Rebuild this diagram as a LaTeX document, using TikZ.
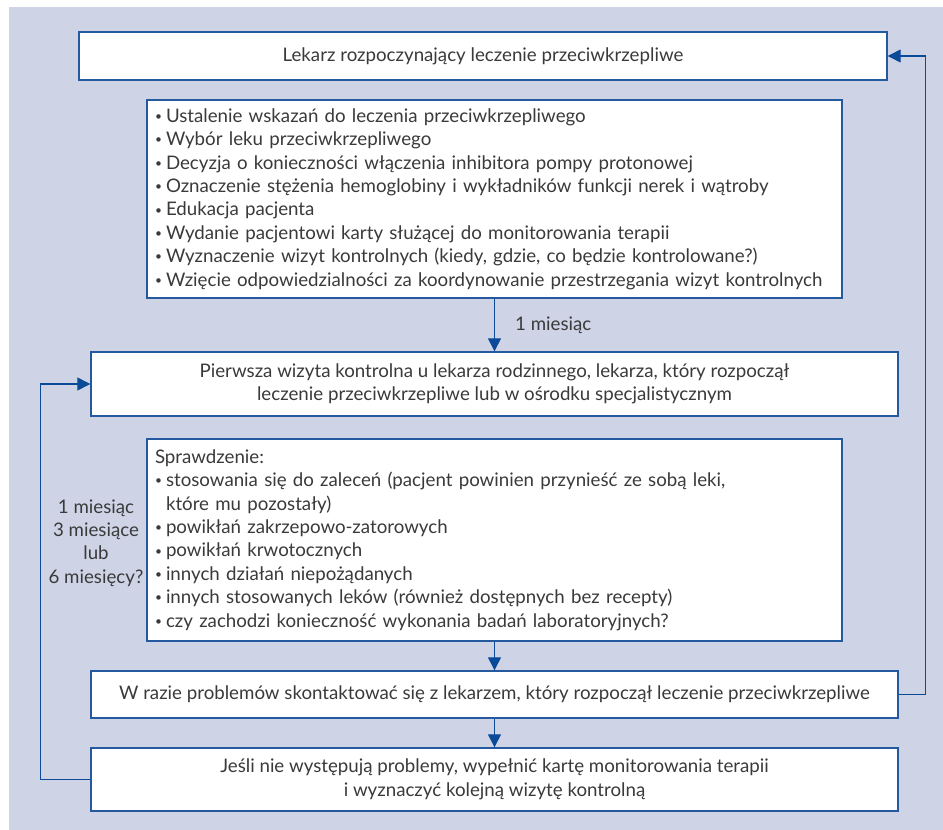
\documentclass[tikz,border=0pt]{standalone}
\usepackage{fontspec}
\setmainfont{Lato}
\usetikzlibrary{arrows.meta}
\definecolor{tlo}{HTML}{CED4E6}
\definecolor{ramka}{HTML}{2459A0}
\definecolor{strzalka}{HTML}{0B4A98}
\definecolor{tekst}{HTML}{3A3A3A}
\tikzset{
	pole/.style={draw=ramka,line width=1.4pt,fill=white,text=tekst,inner sep=0pt,align=center},
	lista/.style={pole,align=left,inner xsep=8pt},
	przejscie/.style={draw=strzalka,line width=1.3pt,-{Triangle[width=13pt,length=13pt]}},
	opis/.style={text=tekst,inner sep=0pt}
}
\newcommand{\pkt}{\makebox[11pt][l]{\raisebox{1.8pt}{\fontsize{12}{12}\selectfont\textbullet}}}
\newcommand{\wciecie}{\hspace*{11pt}}
\begin{document}
\begin{tikzpicture}[x=1pt,y=-1pt,font=\fontsize{18.7}{23.4}\selectfont]
		\useasboundingbox (0,0) rectangle (943,830);
		\fill[color=tlo] (9,7) rectangle (943,830);
		\node[pole,minimum width=808pt,minimum height=48pt] (lekarz) at (483,56) {Lekarz rozpoczynający leczenie przeciwkrzepliwe};
		\node[lista,text width=679pt,minimum height=198pt] (zadania) at (494.5,199) {\pkt Ustalenie wskazań do leczenia przeciwkrzepliwego\\
			\pkt Wybór leku przeciwkrzepliwego\\
			\pkt Decyzja o konieczności włączenia inhibitora pompy protonowej\\
			\pkt Oznaczenie stężenia hemoglobiny i wykładników funkcji nerek i wątroby\\
			\pkt Edukacja pacjenta\\
			\pkt Wydanie pacjentowi karty służącej do monitorowania terapii\\
			\pkt Wyznaczenie wizyt kontrolnych (kiedy, gdzie, co będzie kontrolowane?)\\
			\pkt Wzięcie odpowiedzialności za koordynowanie przestrzegania wizyt kontrolnych};
		\node[pole,minimum width=807pt,minimum height=64pt] (wizyta) at (494.5,384) {Pierwsza wizyta kontrolna u lekarza rodzinnego, lekarza, który rozpoczął\\leczenie przeciwkrzepliwe lub w ośrodku specjalistycznym};
		\node[lista,text width=679pt,minimum height=202pt] (sprawdzenie) at (494.5,540) {Sprawdzenie:\\
			\pkt stosowania się do zaleceń (pacjent powinien przynieść ze sobą leki,\\
			\wciecie które mu pozostały)\\
			\pkt powikłań zakrzepowo-zatorowych\\
			\pkt powikłań krwotocznych\\
			\pkt innych działań niepożądanych\\
			\pkt innych stosowanych leków (również dostępnych bez recepty)\\
			\pkt czy zachodzi konieczność wykonania badań laboratoryjnych?};
		\node[pole,minimum width=807pt,minimum height=47pt] (kontakt) at (494.5,694.5) {W razie problemów skontaktować się z lekarzem, który rozpoczął leczenie przeciwkrzepliwe};
		\node[pole,minimum width=807pt,minimum height=63pt] (kolejna) at (494.5,779.5) {Jeśli nie występują problemy, wypełnić kartę monitorowania terapii\\i wyznaczyć kolejną wizytę kontrolną};
		\node[opis,align=center] (okres) at (96,543) {1 miesiąc\\3 miesiące\\lub\\6 miesięcy?};
		\draw[przejscie] (zadania) -- node[opis,right=20pt] (miesiac) {1 miesiąc} (wizyta);
		\draw[przejscie] (sprawdzenie) -- (kontakt);
		\draw[przejscie] (kontakt) -- (kolejna);
		\draw[przejscie] (kontakt.east) -- ++(27,0) |- (lekarz.east);
		\draw[przejscie] (kolejna.west) -- ++(-50,0) |- (wizyta.west);
	\end{tikzpicture}
\end{document}
